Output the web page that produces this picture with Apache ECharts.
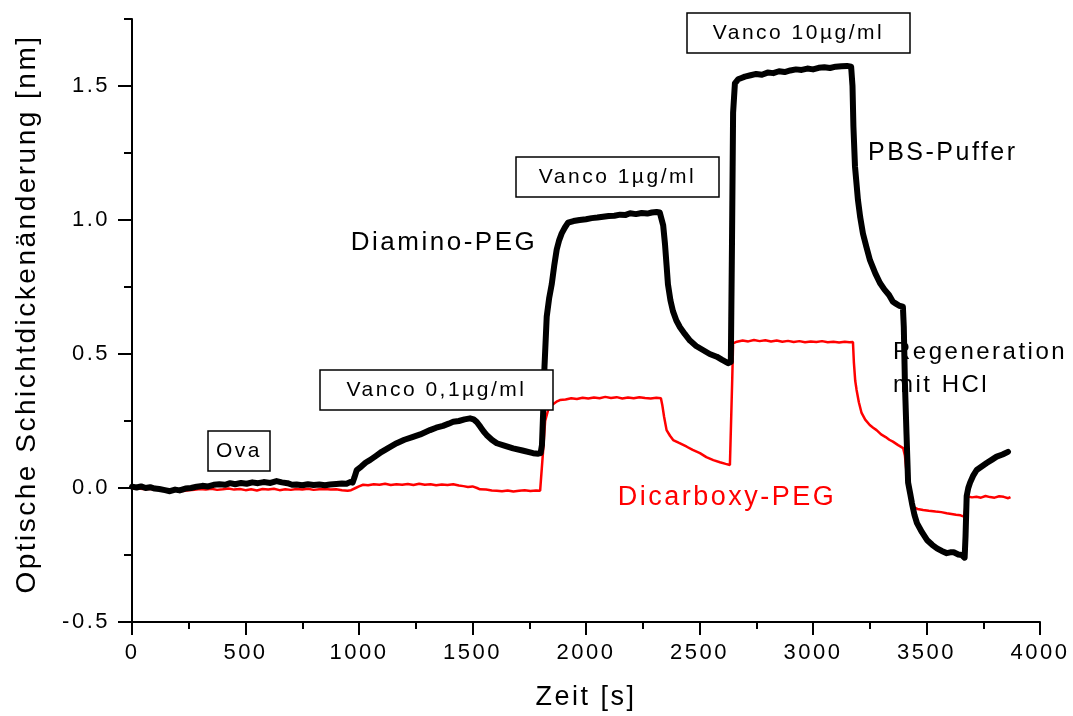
<!DOCTYPE html>
<html>
<head>
<meta charset="utf-8">
<script src="https://cdn.jsdelivr.net/npm/echarts@6/dist/echarts.min.js"></script>
<style>
html,body{margin:0;padding:0;background:#fff;}
#c{width:1073px;height:716px;}
</style>
</head>
<body>
<div id="c"></div>
<script>
// ---- data (time in s, optical thickness change in nm) ----
const diaminoTime = [0,20,40,60,80,100,120,145,167,190,210,235,260,285,310,335,360,385,410,432,455,480,505,530,555,580,610,637,660,685,705,725,750,775,800,825,850,872,900,925,945,960,972,980,990,1010,1030,1048,1075,1100,1130,1166,1200,1235,1270,1313,1340,1370,1395,1415,1440,1465,1489,1505,1518,1535,1550,1562,1585,1607,1640,1679,1720,1767,1790,1800,1806,1812,1817,1827,1838,1849,1860,1871,1882,1893,1907,1921,1945,1972,2000,2025,2050,2075,2100,2125,2150,2175,2194,2220,2245,2270,2290,2311,2325,2333,2340,2348,2355,2361,2372,2383,2398,2414,2435,2458,2485,2515,2545,2576,2600,2626,2638,2643,2648,2656,2670,2685,2700,2725,2750,2775,2800,2825,2850,2875,2900,2925,2950,2975,3000,3025,3050,3075,3100,3125,3150,3168,3174,3178,3185,3198,3208,3220,3235,3251,3275,3295,3315,3335,3352,3365,3380,3396,3400,3405,3412,3419,3428,3436,3447,3458,3480,3502,3525,3546,3567,3589,3605,3620,3640,3655,3668,3672,3677,3684,3692,3705,3721,3743,3765,3787,3809,3835,3859];
const diaminoValues = [0.005,0.002,0.006,0.0,0.003,-0.002,-0.004,-0.008,-0.012,-0.006,-0.009,-0.002,0.0,0.005,0.008,0.006,0.012,0.014,0.012,0.018,0.014,0.019,0.016,0.021,0.018,0.022,0.019,0.026,0.021,0.018,0.012,0.013,0.01,0.014,0.011,0.013,0.01,0.013,0.015,0.017,0.016,0.022,0.02,0.04,0.067,0.08,0.095,0.104,0.12,0.135,0.15,0.167,0.18,0.19,0.2,0.216,0.225,0.232,0.24,0.247,0.25,0.256,0.26,0.256,0.247,0.228,0.21,0.198,0.18,0.167,0.158,0.148,0.14,0.13,0.128,0.13,0.16,0.3,0.45,0.64,0.71,0.76,0.83,0.89,0.925,0.95,0.972,0.99,0.996,1.0,1.003,1.007,1.009,1.012,1.015,1.016,1.02,1.019,1.025,1.022,1.026,1.024,1.028,1.03,1.028,1.025,0.98,0.91,0.83,0.76,0.7,0.66,0.625,0.6,0.575,0.55,0.53,0.515,0.5,0.49,0.478,0.466,0.47,0.9,1.4,1.51,1.525,1.53,1.535,1.54,1.545,1.542,1.55,1.548,1.555,1.552,1.558,1.562,1.56,1.565,1.562,1.568,1.57,1.567,1.572,1.574,1.575,1.572,1.5,1.35,1.2,1.075,1.01,0.95,0.9,0.85,0.8,0.765,0.74,0.72,0.695,0.688,0.68,0.677,0.6,0.39,0.2,0.02,-0.02,-0.057,-0.1,-0.131,-0.165,-0.194,-0.212,-0.225,-0.235,-0.243,-0.24,-0.24,-0.248,-0.25,-0.26,-0.18,-0.03,0.0,0.02,0.045,0.067,0.08,0.093,0.105,0.117,0.125,0.135];

const dicarboxyTime = [0,25,50,75,100,125,150,175,200,225,250,275,300,325,350,375,400,425,450,475,500,525,550,575,600,625,650,675,700,725,750,775,800,825,850,875,900,925,950,965,985,1000,1018,1040,1065,1090,1115,1140,1165,1190,1215,1240,1265,1290,1315,1340,1365,1390,1415,1440,1460,1480,1500,1520,1533,1560,1585,1607,1630,1655,1680,1705,1730,1755,1780,1798,1805,1812,1820,1833,1850,1870,1885,1910,1935,1960,1985,2010,2035,2060,2085,2110,2135,2160,2185,2210,2235,2260,2285,2310,2330,2336,2344,2355,2370,2384,2410,2444,2470,2502,2530,2561,2590,2615,2634,2640,2644,2648,2665,2690,2715,2740,2765,2790,2815,2840,2865,2890,2915,2940,2965,2990,3015,3040,3065,3090,3115,3140,3160,3176,3180,3186,3192,3202,3214,3230,3250,3265,3280,3300,3320,3336,3352,3375,3397,3405,3412,3419,3430,3441,3460,3485,3510,3540,3565,3589,3610,3630,3650,3665,3670,3675,3683,3700,3720,3740,3760,3780,3800,3820,3840,3860,3870];
const dicarboxyValues = [0.0,-0.002,-0.004,-0.003,-0.006,-0.005,-0.008,-0.01,-0.009,-0.011,-0.008,-0.007,-0.004,-0.006,-0.003,-0.007,-0.005,-0.002,-0.006,-0.004,-0.008,-0.005,-0.009,-0.004,-0.006,-0.003,-0.008,-0.005,-0.007,-0.004,-0.006,-0.003,-0.007,-0.005,-0.004,-0.006,-0.005,-0.008,-0.01,-0.008,0.0,0.006,0.012,0.01,0.014,0.012,0.016,0.011,0.014,0.012,0.015,0.011,0.016,0.012,0.014,0.01,0.013,0.011,0.014,0.009,0.007,0.004,0.006,0.0,-0.005,-0.006,-0.009,-0.01,-0.012,-0.009,-0.013,-0.01,-0.008,-0.011,-0.009,-0.01,-0.005,0.15,0.25,0.29,0.31,0.322,0.328,0.33,0.335,0.332,0.337,0.334,0.338,0.335,0.34,0.336,0.339,0.334,0.338,0.335,0.339,0.336,0.334,0.337,0.335,0.31,0.266,0.216,0.195,0.179,0.168,0.154,0.142,0.13,0.115,0.104,0.096,0.09,0.086,0.083,0.4,0.54,0.546,0.55,0.547,0.552,0.548,0.551,0.547,0.55,0.546,0.549,0.545,0.548,0.544,0.547,0.545,0.548,0.544,0.546,0.543,0.546,0.544,0.545,0.47,0.4,0.366,0.32,0.28,0.255,0.235,0.225,0.216,0.2,0.19,0.18,0.173,0.16,0.149,0.12,0.06,0.018,-0.04,-0.07,-0.078,-0.082,-0.085,-0.088,-0.09,-0.094,-0.097,-0.1,-0.102,-0.107,-0.08,-0.045,-0.032,-0.035,-0.033,-0.036,-0.03,-0.034,-0.036,-0.031,-0.033,-0.038,-0.034];

const xTicks = [0,500,1000,1500,2000,2500,3000,3500,4000];
const yTicks = [-0.5,0.0,0.5,1.0,1.5];

const FONT = 'Liberation Sans, Arial, Helvetica, sans-serif';

// the reference text is set with wide letter spacing
(function(){
  const proto = CanvasRenderingContext2D.prototype;
  const orig = proto.fillText;
  proto.fillText = function(){
    try { this.letterSpacing = '2.5px'; } catch(e) {}
    return orig.apply(this, arguments);
  };
})();

function pairs(xs, ys){ return xs.map((x,i)=>[x, ys[i]]); }

const chart = echarts.init(document.getElementById('c'), null, {renderer:'canvas'});

function box(cx, cy, w, h, label){
  return {
    type:'group', z:10,
    children:[
      {type:'rect', z:10, shape:{x:cx-w/2, y:cy-h/2, width:w, height:h},
       style:{fill:'#fff', stroke:'#000', lineWidth:1.5}},
      {type:'text', z:11, x:cx, y:cy,
       style:{text:label, font:'21px '+FONT, fill:'#000', align:'center', verticalAlign:'middle'}}
    ]
  };
}

chart.setOption({
  animation:false,
  backgroundColor:'#fff',
  grid:{left:132, right:33, top:19, bottom:94, containLabel:false},
  xAxis:{
    type:'value', min:0, max:4000, interval:500,
    name:'Zeit [s]', nameLocation:'middle', nameGap:62,
    nameTextStyle:{fontSize:27, color:'#000', fontFamily:FONT},
    axisLine:{show:true, onZero:false, lineStyle:{color:'#000', width:2}},
    axisTick:{show:true, length:13, lineStyle:{color:'#000', width:2}},
    minorTick:{show:true, splitNumber:2, length:7, lineStyle:{color:'#000', width:2}},
    axisLabel:{fontSize:22, color:'#000', fontFamily:FONT, margin:20,
      customValues: xTicks, formatter: v => String(v)},
    splitLine:{show:false}
  },
  yAxis:[{
    type:'value', min:-0.5, max:1.75,
    axisLine:{show:true, onZero:false, lineStyle:{color:'#000', width:2}},
    axisTick:{show:true, length:14, customValues: yTicks, lineStyle:{color:'#000', width:2}},
    axisLabel:{fontSize:22, color:'#000', fontFamily:FONT, margin:22,
      customValues: yTicks, formatter: v => v.toFixed(1)},
    splitLine:{show:false}
  },{
    type:'value', min:-0.5, max:1.75, interval:0.25, position:'left',
    axisLine:{show:false},
    axisTick:{show:true, length:8, lineStyle:{color:'#000', width:2}},
    axisLabel:{show:false},
    splitLine:{show:false}
  }],
  series:[
    {type:'line', name:'Dicarboxy-PEG', data:pairs(dicarboxyTime, dicarboxyValues),
     showSymbol:false, lineStyle:{color:'#ff0000', width:2.5}, z:2},
    {type:'line', name:'Diamino-PEG', data:pairs(diaminoTime, diaminoValues),
     showSymbol:false, lineStyle:{color:'#000', width:6, join:'round', cap:'round'}, z:3}
  ],
  graphic:[
    {type:'text', z:20, x:27, y:314, rotation:Math.PI/2,
     style:{text:'Optische Schichtdickenänderung [nm]', font:'28px '+FONT, fill:'#000', align:'center', verticalAlign:'middle'}},
    {type:'text', z:1, x:893, y:352,
     style:{text:'Regeneration', font:'24px '+FONT, fill:'#000', align:'left', verticalAlign:'middle'}},
    {type:'text', z:1, x:893, y:385,
     style:{text:'mit HCl', font:'24px '+FONT, fill:'#000', align:'left', verticalAlign:'middle'}},
    {type:'text', z:20, x:444, y:243,
     style:{text:'Diamino-PEG', font:'26px '+FONT, fill:'#000', align:'center', verticalAlign:'middle'}},
    {type:'text', z:20, x:868, y:153,
     style:{text:'PBS-Puffer', font:'25px '+FONT, fill:'#000', align:'left', verticalAlign:'middle'}},
    {type:'text', z:20, x:727, y:498,
     style:{text:'Dicarboxy-PEG', font:'27px '+FONT, fill:'#ff0000', align:'center', verticalAlign:'middle'}},
    box(239, 451, 62, 40, 'Ova'),
    box(436.5, 390, 233, 40, 'Vanco 0,1µg/ml'),
    box(617.5, 177, 203, 40, 'Vanco 1µg/ml'),
    box(798.5, 33, 223, 40, 'Vanco 10µg/ml')
  ]
});
</script>
</body>
</html>
